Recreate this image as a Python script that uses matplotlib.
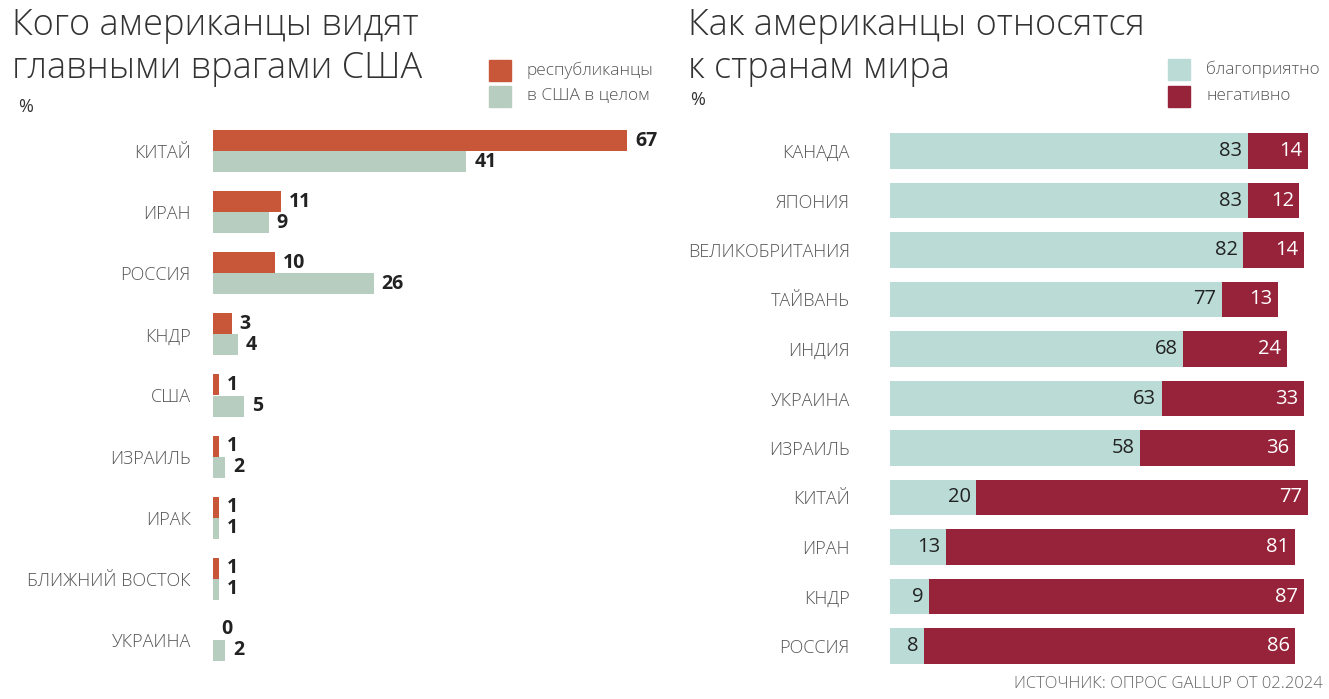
import numpy as np
import matplotlib
matplotlib.use("Agg")
import matplotlib.pyplot as plt

# data
enemies = ["КИТАЙ", "ИРАН", "РОССИЯ", "КНДР", "США", "ИЗРАИЛЬ", "ИРАК",
           "БЛИЖНИЙ ВОСТОК", "УКРАИНА"]
rep = [67, 11, 10, 3, 1, 1, 1, 1, 0]
total = [41, 9, 26, 4, 5, 2, 1, 1, 2]

countries = ["КАНАДА", "ЯПОНИЯ", "ВЕЛИКОБРИТАНИЯ", "ТАЙВАНЬ", "ИНДИЯ", "УКРАИНА",
             "ИЗРАИЛЬ", "КИТАЙ", "ИРАН", "КНДР", "РОССИЯ"]
fav = [83, 83, 82, 77, 68, 63, 58, 20, 13, 9, 8]
neg = [14, 12, 14, 13, 24, 33, 36, 77, 81, 87, 86]

RED = "#C8573A"
GREEN = "#B6CDBF"
TEAL = "#BADBD6"
MAROON = "#97233B"
GRAY = "#555555"

plt.rcParams["font.family"] = ["Open Sans", "DejaVu Sans"]

W, H = 1329, 699
fig = plt.figure(figsize=(W / 100, H / 100), dpi=100)

def px_axes(x0, top, width, bottom):
    return fig.add_axes([x0 / W, 1 - bottom / H, width / W, (bottom - top) / H])

# ---- left chart
ax1 = px_axes(213, 120.5, 75 * 6.18, 670.5)
y1 = np.arange(len(enemies))
bh = 0.345
ax1.barh(y1 - bh / 2, rep, height=bh, color=RED)
ax1.barh(y1 + bh / 2, total, height=bh, color=GREEN)
for i in range(len(enemies)):
    ax1.text(rep[i] + 1.3, y1[i] - bh / 2, str(rep[i]), va="center", ha="left",
             fontsize=14, fontweight="bold", color="#222222")
    ax1.text(total[i] + 1.3, y1[i] + bh / 2, str(total[i]), va="center", ha="left",
             fontsize=14, fontweight="bold", color="#222222")
ax1.set_xlim(0, 75)
ax1.set_ylim(len(enemies) - 0.5, -0.5)
ax1.set_yticks(y1)
ax1.set_yticklabels(enemies, fontsize=13, color=GRAY, fontweight="light")
ax1.tick_params(axis="y", length=0, pad=16)
ax1.set_xticks([])
for s in ax1.spines.values():
    s.set_visible(False)

# ---- right chart
ax2 = px_axes(890, 126.25, 100 * 4.31, 670.75)
y2 = np.arange(len(countries))
ax2.barh(y2, fav, height=0.71, color=TEAL)
ax2.barh(y2, neg, left=fav, height=0.71, color=MAROON)
for i in range(len(countries)):
    ax2.text(fav[i] - 1.3, y2[i], str(fav[i]), va="center", ha="right",
             fontsize=14.5, color="#222222")
    ax2.text(fav[i] + neg[i] - 1.3, y2[i], str(neg[i]), va="center", ha="right",
             fontsize=14.5, color="white")
ax2.set_xlim(0, 100)
ax2.set_ylim(len(countries) - 0.5, -0.5)
ax2.set_yticks(y2)
ax2.set_yticklabels(countries, fontsize=13, color=GRAY, fontweight="light")
ax2.tick_params(axis="y", length=0, pad=29)
ax2.set_xticks([])
for s in ax2.spines.values():
    s.set_visible(False)

# ---- titles and legends
fig.text(12 / W, 1 - 7 / H, "Кого американцы видят\nглавными врагами США",
         fontsize=26, fontweight="light", color="#333333", va="top", ha="left",
         linespacing=1.2)
fig.text(18 / W, 1 - 107 / H, "%", fontsize=13, color="#333333", va="center")
fig.text(688 / W, 1 - 7 / H, "Как американцы относятся\nк странам мира",
         fontsize=26, fontweight="light", color="#333333", va="top", ha="left",
         linespacing=1.2)
fig.text(690 / W, 1 - 100 / H, "%", fontsize=13, color="#333333", va="center")

def legend_item(x, y, color, label, size):
    fig.patches.append(plt.Rectangle((x / W, 1 - (y + 11) / H), 22 / W, 21 / H,
                                     color=color, transform=fig.transFigure))
    fig.text((x + 38) / W, 1 - y / H, label, fontsize=size, color=GRAY,
             fontweight="light", va="center", ha="left")

legend_item(489, 70, RED, "республиканцы", 12.5)
legend_item(489, 96, GREEN, "в США в целом", 12.5)
legend_item(1168, 69, TEAL, "благоприятно", 12.3)
legend_item(1168, 96, MAROON, "негативно", 12.3)

fig.text(1323 / W, 1 - 684 / H, "ИСТОЧНИК: ОПРОС GALLUP ОТ 02.2024", fontsize=12,
         color="#666666", fontweight="light", ha="right", va="center")

fig.savefig("out.png", dpi=100, facecolor="white")
